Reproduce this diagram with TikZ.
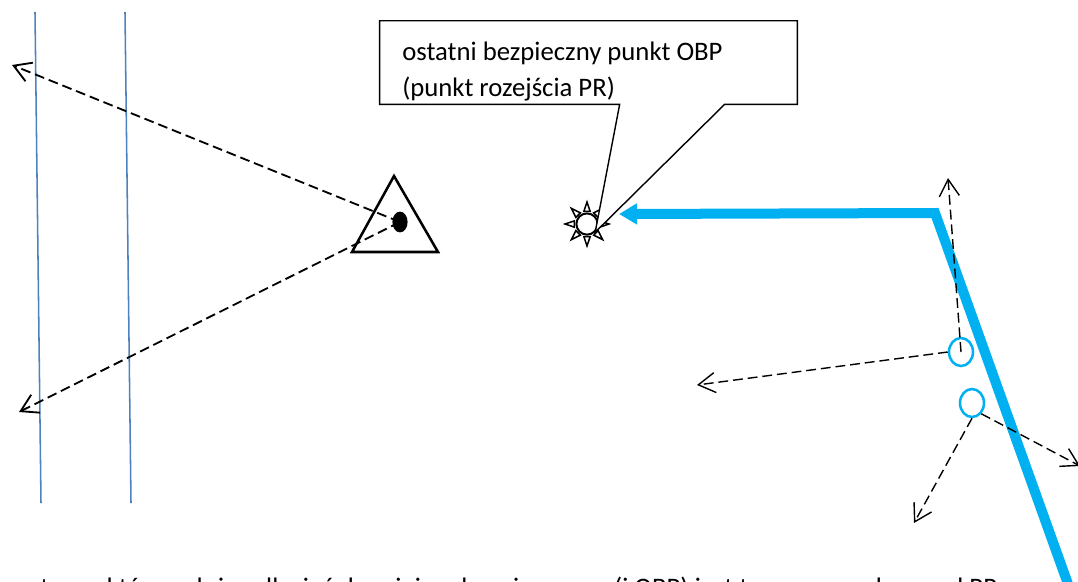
\documentclass[tikz,border=0pt]{standalone}
\usepackage{fontspec}
\setmainfont{Carlito}
\usepackage{tikz}
\usetikzlibrary{arrows.meta, shapes.geometric, calc}

\definecolor{routeblue}{HTML}{00B0F0}
\definecolor{laneblue}{HTML}{4F81BD}

\begin{document}
\begin{tikzpicture}[
    x=0.025cm, y=-0.025cm,
    lane/.style={laneblue, line width=1.1pt},
    obstacle/.style={draw, line width=1.8pt, line join=miter},
    blob/.style={ellipse, fill=black, inner sep=0pt, minimum width=0.38cm, minimum height=0.52cm},
    escape/.style={line width=1.3pt, dash pattern=on 7pt off 3.5pt, -{Straight Barb[length=0.42cm, width=0.5cm]}},
    sunny/.style={circle, draw, fill=white, line width=1.4pt, inner sep=0pt, minimum size=0.53cm},
    sunray/.style={draw, fill=white, line width=1.1pt, line join=miter},
    callout/.style={draw, fill=white, line width=1pt, line join=miter},
    label text/.style={font=\fontsize{19pt}{25.5pt}\selectfont, inner sep=0pt},
    route/.style={routeblue, line width=0.25cm, line join=miter, -{Triangle[length=0.45cm, width=0.5cm]}},
    marker/.style={ellipse, draw=routeblue, line width=1.8pt, inner sep=0pt, minimum width=0.6cm, minimum height=0.7cm}
]
\useasboundingbox (0,0) rectangle (1078,581);

% Lanes and obstacle
\draw[lane] (35,12) -- (41,503);
\draw[lane] (125,12) -- (131,503);
\draw[obstacle] (394,176) -- (438,252) -- (352,252) -- cycle;
\node[blob] (dot) at (400,222) {};
\coordinate (upper exit) at (12,65);
\coordinate (lower exit) at (19,412);
\draw[escape] (dot.center) -- (upper exit);
\draw[escape] (dot.center) -- (lower exit);

% Last safe point
\node[sunny] (sun) at (587,224) {};
\foreach \a in {0,45,...,315}
    \draw[sunray, shift={(sun.center)}] (\a-14:13) -- (\a:22) -- (\a+14:13) -- cycle;

% Callout
\node[minimum width=10.425cm, minimum height=2.075cm, inner sep=0pt] (box) at (588.5,62.5) {};
\draw[callout] (box.north west) -- (box.north east) -- (box.south east)
    -- ($(box.south west)+(345,0)$) -- (sun.south east)
    -- ($(box.south west)+(240,0)$) -- (box.south west) -- cycle;
\begin{scope}
    \clip (box.south west) rectangle (box.north east);
    \node[label text, anchor=base west] (line one) at (402,60) {ostatni bezpieczny punkt OBP};
    \node[label text, anchor=base west] (line two) at (402,96) {(punkt rozejścia PR)};
\end{scope}

% Route
\coordinate (entry) at (1073,598);
\coordinate (bend) at (935,213);
\coordinate (route end) at (619,214);
\draw[route] (entry) -- (bend) -- (route end);

% Markers
\node[marker] (m1) at (961,352) {};
\node[marker] (m2) at (972,403) {};
\coordinate (north exit) at (948,178);
\coordinate (west exit) at (697,385);
\coordinate (south exit) at (914,523);
\coordinate (east exit) at (1080,466);
\begin{scope}[escape/.append style={line width=1pt}]
    \draw[escape] (m1.center) -- (north exit);
    \draw[escape] (m1.west) -- (west exit);
    \draw[escape] (m2.south) -- (south exit);
    \draw[escape] (m2.south east) -- (east exit);
\end{scope}

% Caption
\node[label text, anchor=base west] (note) at (40,596) {trasa, którą należy odlecieć do miejsca bezpiecznego (i OBP) jest trasą prowadzącą od PR};

\end{tikzpicture}
\end{document}
